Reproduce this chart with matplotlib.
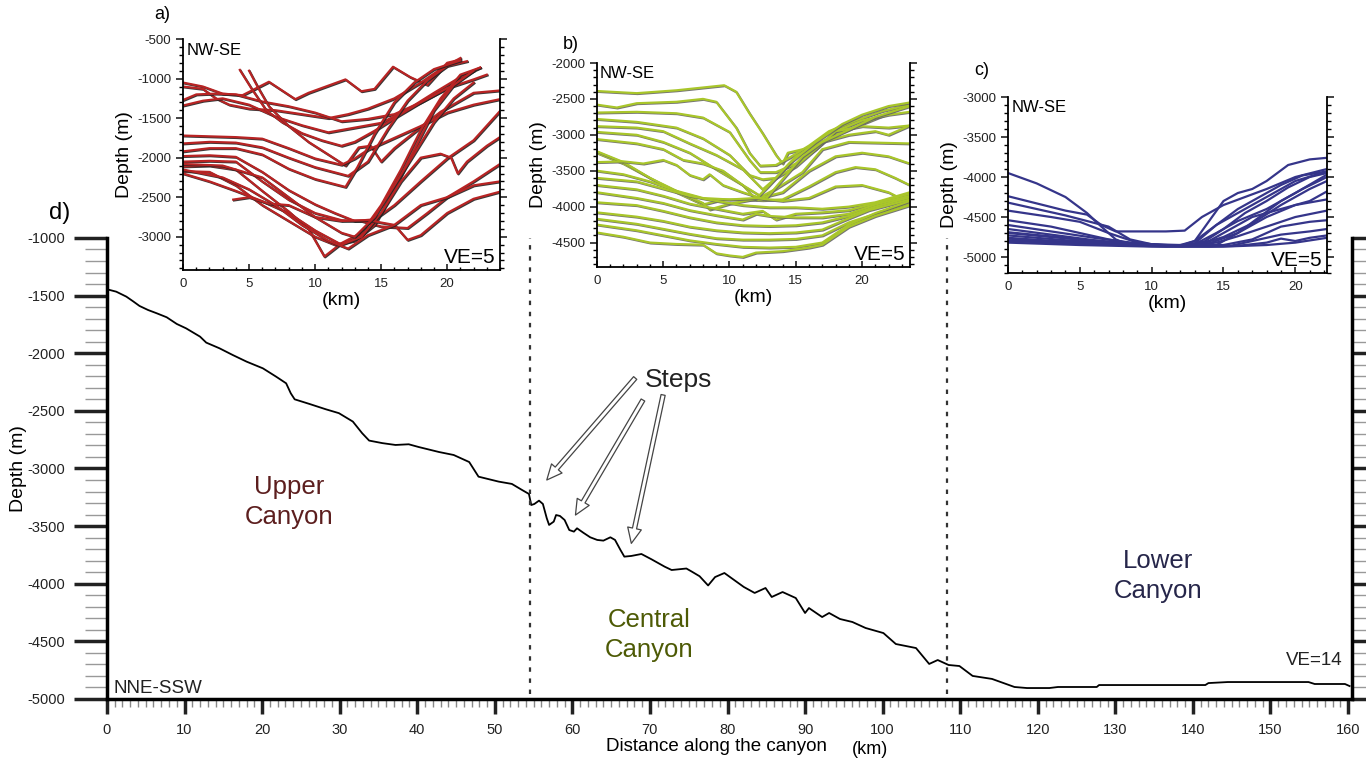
import numpy as np
import matplotlib
matplotlib.use("Agg")
import matplotlib.pyplot as plt
import matplotlib.patheffects as pe
from matplotlib.ticker import MultipleLocator

plt.rcParams['font.family'] = ['Liberation Sans', 'DejaVu Sans']
plt.rcParams['axes.unicode_minus'] = False

# main along-canyon profile (km, depth m)
dist_km = [0, 1.2, 2.5, 3.4, 4.2, 5.3, 6.4, 7.7, 9.0, 10.2, 12.0, 12.8, 14.5, 16.2, 18.0,
           20.1, 21.8, 23.1, 23.7, 24.2, 26.1, 28.2, 29.9, 31.7, 32.9, 33.8, 35.5, 37.2,
           38.9, 40.2, 42.8, 44.7, 46.7, 47.9, 50.5, 52.2, 53.5, 54.4, 54.7, 55.1, 55.7,
           56.2, 56.7, 57.0, 57.6, 57.9, 58.4, 59.0, 59.6, 60.2, 60.6, 61.4, 62.3, 63.2,
           64.0, 64.9, 65.5, 66.2, 66.7, 67.6, 68.9, 70.2, 71.9, 72.8, 74.7, 75.4, 76.4,
           77.5, 78.4, 79.6, 82.1, 83.5, 84.9, 85.7, 87.1, 88.8, 90.0, 90.5, 92.2, 93.1,
           94.5, 96.1, 97.8, 100.1, 101.7, 104.3, 106.0, 107.1, 108.5, 109.9, 111.6,
           114.1, 117.0, 118.6, 121.5, 122.6, 127.6, 127.9, 141.6, 142.0, 144.5, 154.9,
           155.7, 159.6, 160.2]
depth_m = [-1445, -1466, -1509, -1551, -1590, -1625, -1653, -1688, -1746, -1784, -1856,
           -1908, -1957, -2015, -2073, -2131, -2203, -2261, -2348, -2400, -2440, -2486,
           -2520, -2593, -2694, -2758, -2780, -2796, -2790, -2814, -2857, -2883, -2944,
           -3071, -3114, -3134, -3186, -3221, -3317, -3308, -3279, -3308, -3432, -3490,
           -3461, -3404, -3412, -3447, -3534, -3548, -3519, -3557, -3597, -3620, -3626,
           -3597, -3620, -3707, -3765, -3759, -3742, -3788, -3852, -3881, -3868, -3895,
           -3935, -4015, -3942, -3907, -4028, -4080, -4037, -4115, -4072, -4124, -4254,
           -4211, -4289, -4254, -4306, -4332, -4384, -4428, -4523, -4558, -4696, -4662,
           -4705, -4714, -4800, -4826, -4896, -4905, -4905, -4896, -4896, -4879, -4879,
           -4862, -4853, -4853, -4870, -4870, -4888]
section_bounds = [54.5, 108.3]

# cross sections, upper canyon (a)
upper_sections = [
    [(0, -1050), (1.5, -1100), (3, -1190), (4.5, -1210), (6.5, -1040), (8.5, -1260), (9.5, -1180),
     (12.3, -1010), (13.5, -1160), (14.5, -1130), (15.9, -850), (17.2, -980), (18.5, -1080),
     (20, -800), (21, -760)],
    [(0, -1100), (1.5, -1130), (2.5, -1250), (3.5, -1330), (5, -1380), (7, -1400), (9, -1450),
     (11, -1500), (12.5, -1450), (14, -1380), (16, -1250), (18, -1050), (19.5, -880), (21, -740)],
    [(0, -1270), (1, -1200), (2.5, -1190), (4, -1200), (6, -1290), (8, -1350), (10, -1430),
     (12, -1540), (14, -1510), (16, -1450), (18, -1300), (20, -1120), (22, -900)],
    [(0, -1340), (1.5, -1280), (3, -1250), (5, -1330), (7, -1480), (9, -1590), (11, -1680),
     (13, -1620), (15, -1560), (17, -1390), (19, -1180), (21, -980), (22.5, -860)],
    [(4.3, -890), (5.2, -1130), (6.3, -1400), (7.5, -1550), (9, -1690), (10.5, -1780),
     (12, -1850), (13, -1800), (14.5, -1660), (16, -1500), (18, -1300), (20, -1120),
     (22, -1010), (23, -950)],
    [(5, -900), (5.7, -1120), (6.5, -1350), (8, -1600), (9.5, -1800), (11, -1960),
     (12.3, -2100), (13.3, -1870), (14.2, -1850), (15, -2050), (16, -1880), (17.5, -1680),
     (19.5, -1420), (22, -1180), (24, -1150)],
    [(0, -1720), (2, -1730), (4, -1740), (6, -1760), (8, -1880), (10, -2010), (12, -2090),
     (13, -2010), (14, -1900), (16, -1750), (18, -1600), (20, -1430), (22, -1330), (24, -1260)],
    [(0, -1820), (2, -1800), (4, -1810), (6, -1870), (8, -2000), (10, -2120), (12.5, -2230),
     (14, -2050), (15.5, -1640), (17, -1280), (18.5, -1020), (20, -840), (21.5, -780)],
    [(0, -1920), (2, -1880), (4, -1880), (6, -1960), (8, -2140), (10, -2270), (12.3, -2370),
     (13.2, -2120), (14.5, -1700), (16, -1300), (17.5, -1050), (19, -880), (21, -770)],
    [(0, -1980), (2, -1970), (4, -1990), (6, -2180), (8, -2410), (10, -2590), (11.5, -2700),
     (13, -2800), (14.5, -2780), (16, -2600), (18, -2300), (20, -2010), (22, -1780), (24, -1410)],
    [(0, -2050), (2, -2040), (4, -2050), (6, -2300), (8, -2530), (10, -2700), (12, -2790),
     (13.5, -2800), (15, -2870), (17, -2890), (18.5, -2700), (20, -2500), (22, -2300), (24, -2080)],
    [(0, -2110), (2, -2100), (4, -2150), (6, -2420), (8, -2680), (9.5, -2900), (10.7, -3250),
     (12, -3080), (13.5, -2950), (15, -2600), (16.5, -2150), (18, -1650), (19.5, -1250),
     (21, -950), (22.5, -860)],
    [(0, -2170), (2, -2180), (4, -2350), (6, -2600), (8, -2800), (10, -3000), (11.5, -3100),
     (13, -3050), (14.5, -2850), (16, -2400), (17.5, -1900), (19, -1400), (20.5, -1080),
     (22, -900)],
    [(0, -2200), (2, -2300), (4, -2420), (6, -2550), (8, -2700), (10, -2920), (12, -3100),
     (13.5, -3000), (15, -2700), (16.5, -2300), (18, -2000), (19.5, -1950), (20.3, -2000),
     (20.8, -2200), (21.5, -2050), (23, -1850), (24, -1740)],
    [(3.8, -2530), (5, -2500), (6.5, -2580), (8, -2600), (10, -2750), (12, -2800), (14, -2790),
     (16, -2850), (17, -3040), (18, -2980), (20, -2700), (22, -2520), (24, -2430)],
    [(0, -2150), (3, -2250), (5, -2400), (7, -2600), (9, -2850), (11, -3050), (12.5, -3150),
     (14, -2980), (16, -2850), (18, -2600), (20, -2500), (22, -2350), (24, -2300)],
    [(0, -2080), (3, -2100), (6, -2250), (8, -2500), (10, -2750), (12, -2950), (13, -3000),
     (14.5, -2750), (16, -2350), (17.5, -1950), (19, -1550), (20.5, -1250), (22, -1050)],
]

# cross sections, central canyon (b)
central_sections = [
    [(0, -2390), (3, -2420), (6, -2380), (9.6, -2310), (10.5, -2400), (11.5, -2700), (12.5, -2980),
     (13.5, -3280), (14, -3400), (14.4, -3250), (16, -3180), (18, -3000), (20, -2850), (22, -2700),
     (23.6, -2560)],
    [(0, -2580), (1.5, -2620), (3, -2560), (6, -2540), (8, -2500), (9, -2540), (10.5, -2900),
     (11.5, -3250), (12.3, -3430), (13.5, -3420), (14.5, -3320), (16, -3150), (17.5, -2950),
     (19.5, -2800), (21.5, -2670), (23.6, -2580)],
    [(0, -2690), (3, -2680), (6, -2700), (8, -2760), (10, -2960), (11.5, -3350), (12.3, -3520),
     (13.5, -3520), (15, -3400), (16.5, -3200), (18, -2950), (20, -2800), (22, -2720), (23.6, -2680)],
    [(0, -2780), (3, -2820), (6, -2900), (8, -3050), (10, -3280), (11.5, -3560), (12.5, -3620),
     (13.5, -3600), (15, -3440), (16.5, -3200), (18, -2950), (20, -2880), (22, -2900), (23.6, -2870)],
    [(0, -2880), (3, -2900), (5, -2950), (7, -3120), (9, -3280), (11, -3480), (12.5, -3760),
     (13.5, -3600), (15, -3300), (17, -3100), (19, -3000), (21, -2950), (22, -3000), (23.6, -2870)],
    [(0, -2960), (3, -3000), (5, -3100), (7, -3250), (9, -3480), (11, -3700), (12, -3900),
     (13.5, -3750), (15.5, -3520), (17, -3200), (19, -3100), (23.6, -3120)],
    [(0, -3060), (3, -3120), (5, -3200), (6.5, -3350), (8, -3400), (9.5, -3500), (11, -3700),
     (12.5, -3870), (14, -3800), (16, -3500), (18, -3300), (20, -3250), (22, -3300), (23.6, -3400)],
    [(0, -3250), (2, -3400), (4, -3600), (6, -3800), (8, -3970), (9.5, -3900), (11, -3900),
     (12.5, -3910), (14, -3900), (16, -3720), (18, -3520), (19.5, -3450), (21, -3480),
     (22.5, -3600), (23.6, -3700)],
    [(0, -3230), (2, -3380), (4, -3600), (6, -3780), (8, -3950), (8.5, -4040), (10, -3960),
     (12, -3890), (13, -3700), (14.5, -3400), (16.5, -3100), (18.5, -2850), (20, -2720),
     (22, -2600), (23.6, -2550)],
    [(0, -3380), (2, -3370), (3.5, -3400), (5, -3350), (6, -3420), (7, -3560), (8, -3620),
     (8.5, -3550), (9.5, -3700), (11, -3800), (12.7, -3900), (14, -3620), (15.5, -3300),
     (17, -3100), (19, -2930), (21, -2750), (23.6, -2600)],
    [(0, -3500), (2, -3550), (4, -3650), (6, -3780), (8, -3880), (10, -3900), (12, -3880),
     (14, -3920), (16, -3880), (18, -3720), (20, -3700), (22, -3800), (23.6, -3950)],
    [(0, -3600), (3, -3650), (5, -3750), (7, -3850), (9, -3920), (11, -3980), (13, -4010),
     (15, -4010), (17, -4030), (19, -4000), (21, -3940), (23.6, -3800)],
    [(0, -3700), (3, -3760), (5, -3850), (7, -3960), (9, -4030), (11, -4100), (12.5, -4060),
     (13.5, -4180), (15, -4100), (17, -4080), (19, -4050), (21, -3950), (23.6, -3820)],
    [(0, -3800), (3, -3880), (5, -3950), (7, -4050), (9, -4120), (11, -4180), (12, -4100),
     (13, -4130), (15, -4150), (17, -4150), (19, -4100), (21, -3970), (23.6, -3850)],
    [(0, -3940), (3, -3980), (5, -4060), (7, -4150), (9, -4220), (11, -4260), (13, -4270),
     (15, -4260), (17, -4220), (19, -4130), (21, -4000), (23.6, -3870)],
    [(0, -4080), (3, -4140), (5, -4200), (7, -4280), (9, -4330), (11, -4360), (13, -4370),
     (15, -4360), (17, -4320), (18.5, -4200), (20.5, -4050), (23.6, -3900)],
    [(0, -4170), (3, -4240), (5, -4310), (7, -4380), (9, -4440), (11, -4460), (13, -4460),
     (15, -4450), (17, -4400), (19, -4220), (21, -4100), (23.6, -3950)],
    [(0, -4250), (3, -4330), (5, -4400), (7, -4470), (9, -4520), (11, -4560), (13, -4570),
     (15, -4560), (17, -4500), (19, -4250), (21, -4090), (23.6, -3920)],
    [(0, -4360), (2, -4420), (4, -4500), (6, -4520), (8, -4530), (9, -4650), (10, -4680),
     (11, -4700), (12, -4640), (14, -4620), (16, -4570), (17, -4530), (19, -4280), (21, -4130),
     (23.6, -3980)],
]

# cross sections, lower canyon (c)
lower_sections = [
    [(0, -3950), (2, -4080), (4, -4250), (5.5, -4450), (6.5, -4620), (7.5, -4780), (8.5, -4850),
     (10, -4860), (12, -4860), (13, -4800), (14, -4550), (15, -4300), (16, -4200), (17, -4150),
     (18, -4050), (19.5, -3850), (21, -3780), (22.2, -3760)],
    [(0, -4240), (2, -4330), (4, -4420), (5.5, -4470), (6.5, -4600), (7.5, -4680), (9, -4680),
     (11, -4680), (12.3, -4670), (13.5, -4500), (15, -4350), (16.5, -4250), (18, -4150),
     (20, -4000), (22.2, -3900)],
    [(0, -4320), (2, -4400), (4, -4480), (5.5, -4550), (7, -4620), (8.5, -4780), (10, -4840),
     (12, -4850), (13, -4800), (14.5, -4600), (16, -4450), (18, -4250), (20, -4050), (22.2, -3930)],
    [(0, -4420), (3, -4500), (5, -4560), (7, -4700), (9, -4820), (11, -4860), (13, -4840),
     (14.5, -4700), (16, -4550), (18, -4400), (20, -4200), (22.2, -3970)],
    [(0, -4540), (3, -4620), (5, -4700), (7, -4780), (9, -4840), (11, -4860), (13, -4860),
     (15, -4750), (17, -4580), (19, -4350), (21, -4150), (22.2, -4050)],
    [(0, -4600), (3, -4680), (6, -4760), (9, -4830), (12, -4860), (14, -4800), (15.5, -4650),
     (17, -4500), (19, -4400), (21, -4300), (22.2, -4180)],
    [(0, -4650), (3, -4720), (6, -4790), (9, -4840), (12, -4860), (14, -4830), (16, -4700),
     (18, -4500), (20, -4350), (22.2, -4280)],
    [(0, -4700), (3, -4750), (6, -4800), (9, -4850), (12, -4860), (14.5, -4820), (16, -4740),
     (18, -4620), (20, -4500), (22.2, -4420)],
    [(0, -4730), (4, -4790), (8, -4840), (12, -4860), (15, -4850), (17, -4780), (19, -4620),
     (21, -4560), (22.2, -4540)],
    [(0, -4760), (4, -4810), (8, -4850), (12, -4870), (15.5, -4860), (17, -4800), (19, -4720),
     (21, -4680), (22.2, -4650)],
    [(0, -4790), (5, -4830), (10, -4860), (14, -4870), (16, -4860), (18, -4820), (19, -4770),
     (20, -4800), (21, -4760), (22.2, -4730)],
    [(0, -4820), (5, -4850), (10, -4870), (15, -4870), (18, -4850), (20, -4820), (22.2, -4760)],
    [(0, -4690), (4, -4760), (8, -4830), (12, -4860), (13, -4830), (14.5, -4600), (16, -4400),
     (17.5, -4250), (19, -4100), (20.5, -3980), (22.2, -3930)],
    [(0, -4770), (5, -4820), (10, -4860), (13.3, -4850), (15, -4650), (16.5, -4450), (18, -4300),
     (19.5, -4130), (21, -4000), (22.2, -3950)],
    [(0, -4800), (6, -4840), (11, -4870), (14.5, -4850), (16, -4700), (17.5, -4500), (19, -4300),
     (20.5, -4150), (22.2, -4000)],
]

narrow = ['Liberation Sans Narrow', 'Liberation Sans']

fig = plt.figure(figsize=(13.66, 7.62), dpi=100)

# ---- main profile d)
ax = fig.add_axes([0.0783, 0.0827, 0.9114, 0.605])
ax.plot(dist_km, depth_m, color='black', lw=1.3)
for b in section_bounds:
    ax.axvline(b, ymin=0.01, ymax=1.0, color='#333333', lw=1.6, ls=(0, (2, 3)))
ax.set_xlim(0, 160.5)
ax.set_ylim(-5000, -1000)
ax.spines['top'].set_visible(False)
for s in ['left', 'bottom', 'right']:
    ax.spines[s].set_linewidth(2.5)
ax.yaxis.set_major_locator(MultipleLocator(500))
ax.yaxis.set_minor_locator(MultipleLocator(100))
ax.xaxis.set_major_locator(MultipleLocator(10))
ax.xaxis.set_minor_locator(MultipleLocator(1))
ax.tick_params(axis='y', which='major', direction='out', length=24, width=2.5,
               right=True, labelsize=10.5, pad=6, colors='#222222')
ax.tick_params(axis='y', which='minor', direction='out', length=16, width=1,
               right=True, color='#999999')
ax.tick_params(axis='x', which='major', direction='out', length=11, width=2.5,
               labelsize=10.5, pad=6, colors='#222222')
ax.tick_params(axis='x', which='minor', direction='out', length=6, width=1, color='#888888')
ax.set_ylabel('Depth (m)', fontsize=14)
ax.yaxis.set_label_coords(-0.064, 0.5)
ax.text(0.49, -0.103, 'Distance along the canyon', transform=ax.transAxes, ha='center',
        va='center', fontsize=13.5, family=narrow)
ax.text(0.613, -0.11, '(km)', transform=ax.transAxes, ha='center', va='center', fontsize=13)

ax.text(23.5, -3290, 'Upper\nCanyon', ha='center', va='center', fontsize=18.5,
        color='#5c1e1e', linespacing=1.3)
ax.text(69.9, -4445, 'Central\nCanyon', ha='center', va='center', fontsize=18.5,
        color='#4d5a05', linespacing=1.3)
ax.text(135.5, -3933, 'Lower\nCanyon', ha='center', va='center', fontsize=18.5,
        color='#26264a', linespacing=1.3)
ax.text(0.9, -4905, 'NNE-SSW', ha='left', va='center', fontsize=13.5, color='#222222',
        family=narrow)
ax.text(159.3, -4662, 'VE=14', ha='right', va='center', fontsize=13.5, color='#222222',
        family=narrow)
ax.text(69.4, -2232, 'Steps', ha='left', va='center', fontsize=19, color='#222222')

arrow_tails = [(68.1, -2215), (69.1, -2406), (71.7, -2362)]
arrow_heads = [(56.7, -3100), (60.4, -3404), (67.6, -3650)]
for (tx, ty), (hx, hy) in zip(arrow_tails, arrow_heads):
    ax.annotate('', xy=(hx, hy), xytext=(tx, ty),
                arrowprops=dict(arrowstyle='simple,head_length=1.1,head_width=1.0,tail_width=0.3',
                                fc='white', ec='#444444', lw=0.9, shrinkA=0, shrinkB=0))
fig.text(0.036, 0.72, 'd)', fontsize=17, ha='left', va='center')


# ---- insets
def inset(rect, sections, color, ylim, xlim, yticks, shadow, label, lab_xy):
    a = fig.add_axes(rect)
    for sec in sections:
        xs = [p[0] for p in sec]
        ys = [p[1] for p in sec]
        if shadow:
            a.plot(xs, ys, color=color, lw=1.6,
                   path_effects=[pe.SimpleLineShadow(offset=(0.6, -0.6), shadow_color=shadow,
                                                     alpha=0.9), pe.Normal()])
        else:
            a.plot(xs, ys, color=color, lw=1.6)
    a.set_xlim(*xlim)
    a.set_ylim(*ylim)
    a.set_facecolor('none')
    a.spines['top'].set_visible(False)
    for s in ['left', 'right', 'bottom']:
        a.spines[s].set_linewidth(1.3)
    a.set_yticks(yticks)
    a.yaxis.set_minor_locator(MultipleLocator(100))
    a.xaxis.set_major_locator(MultipleLocator(5))
    a.xaxis.set_minor_locator(MultipleLocator(1))
    a.tick_params(axis='y', which='major', direction='out', length=5, width=1.2, right=True,
                  labelsize=9.5, colors='#222222')
    a.tick_params(axis='y', which='minor', direction='out', length=3, width=1, right=True)
    a.tick_params(axis='x', which='major', direction='in', length=4, width=1.2,
                  labelsize=9.5, colors='#222222', pad=6)
    a.tick_params(axis='x', which='minor', direction='in', length=2.5, width=1)
    a.set_ylabel('Depth (m)', fontsize=14, labelpad=3)
    a.set_xlabel('(km)', fontsize=14, labelpad=1)
    a.text(0.01, 0.985, 'NW-SE', transform=a.transAxes, ha='left', va='top', fontsize=12)
    a.text(0.985, 0.015, 'VE=5', transform=a.transAxes, ha='right', va='bottom', fontsize=15)
    fig.text(lab_xy[0], lab_xy[1], label, fontsize=13, ha='left', va='center')
    return a


inset([0.134, 0.6457, 0.232, 0.303], upper_sections, '#b82424', (-3420, -500), (0, 24),
      [-3000, -2500, -2000, -1500, -1000, -500], '#222222', 'a)', (0.113, 0.981))
inset([0.437, 0.6496, 0.229, 0.2677], central_sections, '#a9c62a', (-4840, -2000), (0, 23.6),
      [-4500, -4000, -3500, -3000, -2500, -2000], '#666666', 'b)', (0.412, 0.941))
inset([0.7379, 0.6417, 0.2335, 0.231], lower_sections, '#35358a', (-5200, -3000), (0, 22.2),
      [-5000, -4500, -4000, -3500, -3000], None, 'c)', (0.713, 0.908))

fig.savefig('out.png', dpi=100)
